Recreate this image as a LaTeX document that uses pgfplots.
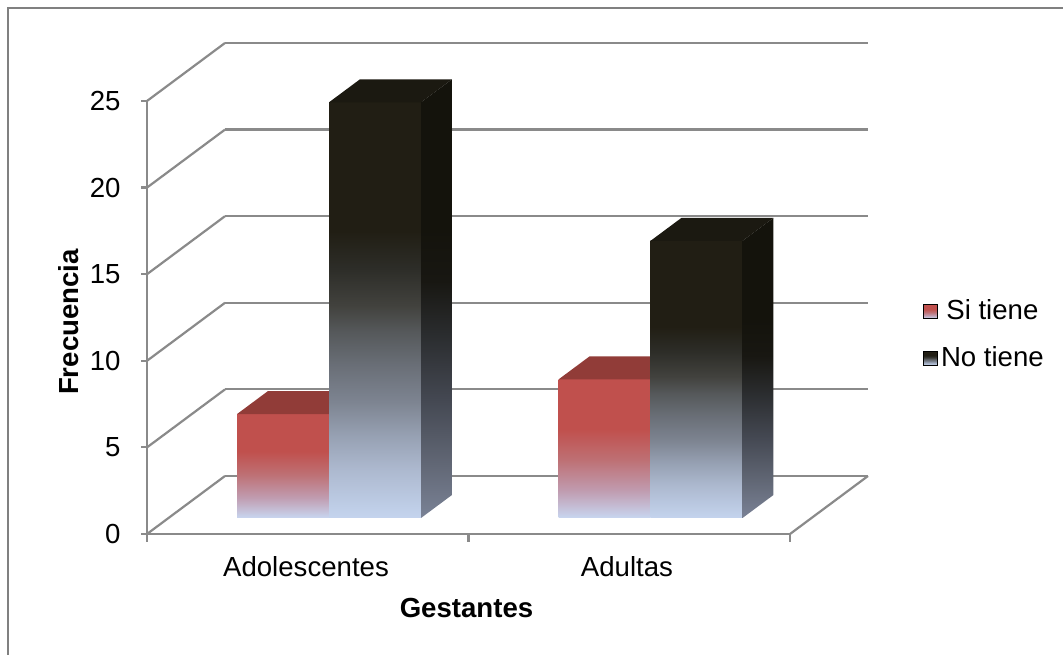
\documentclass[border=0pt]{standalone}
\usepackage{pgfplots}
\pgfplotsset{compat=1.18}
\usepackage{fontspec}
\setmainfont{Liberation Sans}

\newcommand\lbl{\fontsize{13.8}{16.5}\selectfont}

\definecolor{gridgray}{RGB}{138,138,138}
\definecolor{framegray}{RGB}{128,128,128}
% "Si tiene": red front face fading to pale blue at the floor
\definecolor{rA}{RGB}{200,214,240}
\definecolor{rB}{RGB}{192,155,175}
\definecolor{rC}{RGB}{190,112,116}
\definecolor{rD}{RGB}{192,80,77}
\definecolor{rTop}{RGB}{145,60,56}
% "No tiene": near-black front face fading to pale blue
\definecolor{kA}{RGB}{196,212,238}
\definecolor{kB}{RGB}{172,184,206}
\definecolor{kC}{RGB}{150,160,178}
\definecolor{kD}{RGB}{125,132,145}
\definecolor{kE}{RGB}{105,110,118}
\definecolor{kF}{RGB}{85,88,90}
\definecolor{kG}{RGB}{66,66,62}
\definecolor{kH}{RGB}{45,45,40}
\definecolor{kI}{RGB}{33,30,20}
\definecolor{kTop}{RGB}{27,25,17}
\definecolor{ksA}{RGB}{122,130,150}
\definecolor{ksB}{RGB}{98,104,118}
\definecolor{ksC}{RGB}{68,72,82}
\definecolor{ksD}{RGB}{42,44,46}
\definecolor{ksE}{RGB}{24,23,18}
\definecolor{ksF}{RGB}{20,19,12}

% shadings: 25bp = bottom of the face, 75bp = top of the face
\pgfdeclareverticalshading{sifront}{100bp}{color(0bp)=(rA); color(25bp)=(rA); color(35bp)=(rB); color(46bp)=(rC); color(57bp)=(rD); color(100bp)=(rD)}
\pgfdeclareverticalshading{siside}{100bp}{color(0bp)=(rA); color(25bp)=(rA); color(46bp)=(rC); color(57bp)=(rTop); color(100bp)=(rTop)}
\pgfdeclareverticalshading{nofront}{100bp}{color(0bp)=(kA); color(25bp)=(kA); color(31bp)=(kB); color(35bp)=(kC); color(39bp)=(kD); color(43.5bp)=(kE); color(47.5bp)=(kF); color(50.5bp)=(kG); color(55bp)=(kH); color(59.5bp)=(kI); color(100bp)=(kI)}
\pgfdeclareverticalshading{noside}{100bp}{color(0bp)=(ksA); color(25bp)=(ksA); color(31bp)=(ksB); color(38.5bp)=(ksC); color(46bp)=(ksD); color(52bp)=(ksE); color(58bp)=(ksF); color(100bp)=(ksF)}

% depth of the bar front and back planes (0 = front of the floor, 1 = back wall)
\newcommand\depthA{0.276}
\newcommand\depthB{0.672}

% one 3-D column: left x, right x, height, front shading, top colour, side shading
\newcommand\barcolumn[6]{%
  \addplot3[draw=none, shade, shading=#4, forget plot]
    coordinates {(#1,\depthA,0) (#2,\depthA,0) (#2,\depthA,#3) (#1,\depthA,#3)};
  \addplot3[draw=none, fill=#5, forget plot]
    coordinates {(#1,\depthA,#3) (#2,\depthA,#3) (#2,\depthB,#3) (#1,\depthB,#3)};
  \addplot3[draw=none, shade, shading=#6, forget plot]
    coordinates {(#2,\depthA,0) (#2,\depthB,0) (#2,\depthB,#3) (#2,\depthA,#3)};
}

\begin{document}
\begin{tikzpicture}[font=\lbl]
\begin{axis}[
  x={(0.5pt,0pt)}, y={(39pt,29pt)}, z={(0pt,8.66pt)},
  xmin=147, xmax=790, ymin=0, ymax=1, zmin=0, zmax=25,
  axis lines=none,
  clip=false,
  legend style={draw=none, fill=none, font=\lbl, at={(1.076,0.406)}, anchor=west,
    inner sep=0pt, row sep=9pt,
    nodes={inner sep=1.5pt}},
]
  % walls: back-wall grid lines and left-wall diagonals
  \pgfplotsinvokeforeach{0,5,...,25}{
    \addplot3[gridgray, line width=1.1pt, forget plot] coordinates {(147,1,#1) (790,1,#1)};
    \addplot3[gridgray, line width=1.1pt, forget plot] coordinates {(147,0,#1) (147,1,#1)};
  }
  \addplot3[gridgray, line width=1.1pt, forget plot] coordinates {(790,0,0) (790,1,0)};
  % front axes
  \addplot3[gridgray, line width=1.1pt, forget plot] coordinates {(147,0,25) (147,0,0) (790,0,0)};
  \pgfplotsinvokeforeach{0,5,...,25}{
    \draw[gridgray, line width=1.1pt] (axis cs:147,0,#1) -- ++(-3pt,0pt);
    \node[anchor=east, inner sep=0pt] at (axis cs:121,0,#1) {#1};
  }
  \pgfplotsinvokeforeach{147,468.5,790}{
    \draw[gridgray, line width=1.1pt] (axis cs:#1,0,0) -- ++(0pt,-4pt);
  }

  % columns: Adolescentes (Si tiene 6, No tiene 24), Adultas (Si tiene 8, No tiene 16)
  \barcolumn{215.5}{307.5}{6}{sifront}{rTop}{siside}
  \barcolumn{307.5}{399.5}{24}{nofront}{kTop}{noside}
  \barcolumn{537}{629}{8}{sifront}{rTop}{siside}
  \barcolumn{629}{721}{16}{nofront}{kTop}{noside}

  % category and axis labels
  \node[anchor=base] at (axis cs:306,0,-2.48) {Adolescentes};
  \node[anchor=base] at (axis cs:627,0,-2.48) {Adultas};
  \node[anchor=base, font=\lbl\bfseries] at (axis cs:466.5,0,-4.81) {Gestantes};
  \node[rotate=90, font=\lbl\bfseries] at (axis cs:69,0,12.24) {Frecuencia};

  \addlegendimage{legend image code/.code={\shade[shading=sifront] (0pt,-3.5pt) rectangle (7pt,3.5pt);}}
  \addlegendentry{Si tiene}
  \addlegendimage{legend image code/.code={\shade[shading=nofront] (0pt,-3.5pt) rectangle (7pt,3.5pt);}}
  \addlegendentry{No tiene}

  \coordinate (tl) at (axis cs:0,0,30.831);
  \coordinate (br) at (axis cs:1063,0,-6.986);
\end{axis}
\pgfresetboundingbox
\path[use as bounding box] (tl) rectangle (br);
\draw[framegray, line width=1.3pt] ([shift={(4pt,-340pt)}]tl) -- ([shift={(4pt,-4pt)}]tl) -- ([shift={(540pt,-4pt)}]tl);
\end{tikzpicture}
\end{document}
